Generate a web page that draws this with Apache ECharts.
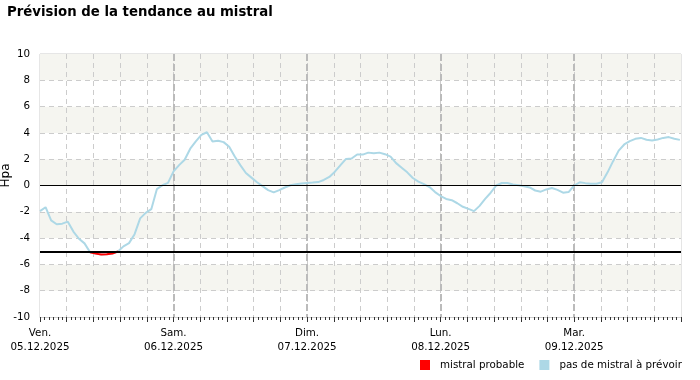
<!DOCTYPE html>
<html>
<head>
<meta charset="utf-8">
<script src="https://cdn.jsdelivr.net/npm/echarts@6/dist/echarts.min.js"></script>
<style>
html,body{margin:0;padding:0;background:#fff;}
#chart{width:700px;height:380px;}
</style>
</head>
<body>
<div id="chart"></div>
<script>
// Hourly pressure-gradient trend (hPa), starting Fri 05.12.2025 00h
const tendance = [
  -1.95, -1.65, -2.65, -2.95, -2.90, -2.75, -3.50, -4.05, -4.40, -5.08,
  -5.18, -5.25, -5.22, -5.17, -5.02, -4.63, -4.38, -3.70, -2.50, -2.08,
  -1.80, -0.28, 0.02, 0.20, 1.07, 1.55, 1.96, 2.80, 3.35, 3.85,
  4.05, 3.35, 3.40, 3.30, 2.95, 2.20, 1.55, 0.95, 0.60, 0.25,
  -0.05, -0.35, -0.52, -0.35, -0.15, 0.02, 0.10, 0.15, 0.19, 0.22,
  0.26, 0.42, 0.65, 1.05, 1.55, 2.02, 2.05, 2.36, 2.35, 2.50,
  2.45, 2.50, 2.38, 2.20, 1.70, 1.35, 1.00, 0.57, 0.30, 0.10,
  -0.12, -0.50, -0.80, -1.02, -1.12, -1.35, -1.62, -1.78, -1.95, -1.55,
  -1.02, -0.55, 0.00, 0.19, 0.19, 0.08, 0.02, -0.05, -0.15, -0.38,
  -0.47, -0.30, -0.19, -0.33, -0.55, -0.50, 0.00, 0.24, 0.18, 0.14,
  0.14, 0.25, 1.00, 1.85, 2.65, 3.12, 3.38, 3.55, 3.62, 3.48,
  3.42, 3.50, 3.62, 3.68, 3.55, 3.47
];
const heures = tendance.map((_, i) => i);
const jours = ['Ven.', 'Sam.', 'Dim.', 'Lun.', 'Mar.'];
const dates = ['05.12.2025', '06.12.2025', '07.12.2025', '08.12.2025', '09.12.2025'];
const seuilMistral = -5;
const ligneZero = 0;
const legendes = ['mistral probable', 'pas de mistral à prévoir'];

const bleu = heures.map((h, i) => [h, tendance[i]]);
const rouge = heures.map((h, i) => [h, tendance[i] < seuilMistral ? tendance[i] : null]);

const FONT = 'DejaVu Sans';
const chart = echarts.init(document.getElementById('chart'), null, {renderer: 'canvas'});
chart.setOption({
  animation: false,
  backgroundColor: '#ffffff',
  title: {
    text: 'Prévision de la tendance au mistral',
    left: 2, top: 1,
    textStyle: {fontFamily: FONT, fontSize: 13.3, fontWeight: 'bold', color: '#000'}
  },
  legend: {
    data: [legendes[0], legendes[1]],
    left: 415, top: 355,
    icon: 'rect', itemWidth: 10, itemHeight: 10, itemGap: 15,
    textStyle: {fontFamily: FONT, fontSize: 10.3, color: '#000', padding: [0, 0, 0, 5]}
  },
  grid: {
    left: 40, right: 19, top: 54, bottom: 63,
    outerBoundsMode: 'none', containLabel: false,
    show: true, borderColor: '#cccccc', borderWidth: 1
  },
  xAxis: [
    {
      type: 'value', min: 0, max: 115.2, interval: 4.8, position: 'bottom',
      axisLine: {show: true, onZero: false, lineStyle: {color: '#cccccc'}},
      axisTick: {show: true, length: 5, lineStyle: {color: '#333'}},
      minorTick: {show: true, splitNumber: 6, length: 3, lineStyle: {color: '#333'}},
      axisLabel: {show: false},
      splitLine: {show: true, showMinLine: false, showMaxLine: false,
        lineStyle: {color: '#cccccc', type: [5, 4], width: 1}}
    },
    {
      type: 'value', min: 0, max: 115.2, interval: 24, position: 'bottom',
      axisLine: {show: false, onZero: false}, axisTick: {show: false},
      axisLabel: {
        show: true, margin: 9, color: '#000', fontFamily: FONT, fontSize: 10.3, lineHeight: 14,
        showMaxLabel: false,
        formatter: function (v) {
          const k = Math.round(v / 24);
          if (Math.abs(v - k * 24) > 0.01 || k >= jours.length) return '';
          return jours[k] + '\n' + dates[k];
        }
      },
      splitLine: {show: true, showMinLine: false, showMaxLine: false,
        lineStyle: {color: '#bbbbbb', type: [7, 3], width: 2}}
    }
  ],
  yAxis: {
    type: 'value', min: -10, max: 10, interval: 2,
    name: 'Hpa', nameLocation: 'middle', nameGap: 28, nameRotate: 90, nameMoveOverlap: false,
    nameTextStyle: {fontFamily: FONT, fontSize: 12, color: '#000', padding: [0, 0, 0, 20]},
    axisLine: {show: false, onZero: false}, axisTick: {show: false},
    axisLabel: {margin: 10, color: '#000', fontFamily: FONT, fontSize: 10.3},
    splitLine: {show: true, showMinLine: false, showMaxLine: false,
      lineStyle: {color: '#cccccc', type: [5, 4], width: 1}},
    splitArea: {show: true, areaStyle: {color: ['#ffffff', '#f5f5f0']}}
  },
  series: [
    {
      name: legendes[1], type: 'line', xAxisIndex: 0, data: bleu,
      showSymbol: false, symbol: 'none',
      lineStyle: {color: '#add8e6', width: 2}, itemStyle: {color: '#add8e6'},
      z: 3,
      markLine: {
        silent: true, symbol: 'none', label: {show: false}, animation: false,
        data: [
          {yAxis: ligneZero, lineStyle: {color: '#000', width: 1, type: 'solid'}},
          {yAxis: seuilMistral, lineStyle: {color: '#000', width: 2, type: 'solid'}}
        ]
      }
    },
    {
      name: legendes[0], type: 'line', xAxisIndex: 0, data: rouge,
      showSymbol: false, symbol: 'none', connectNulls: false,
      lineStyle: {color: '#ff0000', width: 2}, itemStyle: {color: '#ff0000'},
      z: 4
    }
  ]
});
</script>
</body>
</html>
